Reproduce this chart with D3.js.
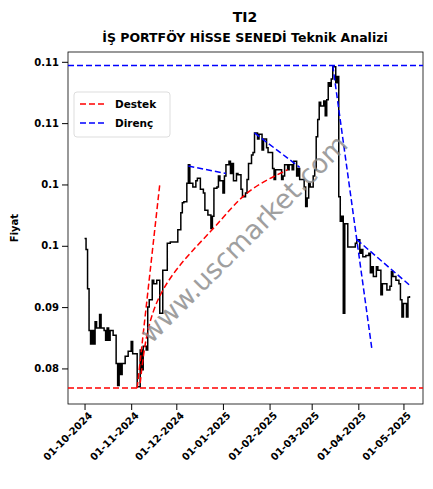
<!DOCTYPE html>
<html><head><meta charset="utf-8">
<script src="https://cdn.jsdelivr.net/npm/d3@7"></script>
<style>body{margin:0;background:#fff}text{font-family:"DejaVu Sans",sans-serif}</style>
</head><body><svg width="433" height="489"></svg>
<script>
// days since 01-10-2024 and closing price
const days = [0,1,2,3,4,5,6,7,8,10,11,13,14,15,16,17,19,21,22,23,24,25,27,29,31,32,34,35,37,38,39,41,42,43,45,46,48,50,52,55,57,60,62,64,65,66,68,69,70,72,74,75,77,79,80,82,84,85,86,88,89,90,92,93,94,96,97,98,99,101,102,104,105,107,108,109,111,112,113,115,116,118,119,121,122,125,126,127,129,131,132,133,135,136,138,139,141,142,143,146,147,148,149,150,152,153,154,155,156,157,159,160,161,162,163,164,165,167,168,169,170,171,172,173,175,178,180,181,183,184,185,187,189,190,191,192,194,195,197,198,200,201,203,204,205,207,209,210,211,212,214,215,216];
const prices = [0.0906,0.0897,0.0865,0.0831,0.0820,0.0831,0.0820,0.0838,0.0833,0.0844,0.0833,0.0831,0.0823,0.0833,0.0823,0.0831,0.0827,0.0804,0.0786,0.0804,0.0795,0.0804,0.0810,0.0814,0.0822,0.0812,0.0812,0.0785,0.0815,0.0799,0.0818,0.0815,0.0850,0.0856,0.0872,0.0869,0.0872,0.0845,0.0880,0.0902,0.0903,0.0903,0.0913,0.0927,0.0935,0.0936,0.0951,0.0966,0.0951,0.0948,0.0953,0.0955,0.0946,0.0943,0.0929,0.0925,0.0914,0.0924,0.0947,0.0948,0.0957,0.0953,0.0943,0.0957,0.0966,0.0969,0.0959,0.0967,0.0953,0.0959,0.0958,0.0946,0.0940,0.0943,0.0954,0.0967,0.0974,0.0976,0.0992,0.0987,0.0991,0.0978,0.0987,0.0980,0.0976,0.0963,0.0954,0.0962,0.0962,0.0954,0.0957,0.0966,0.0962,0.0966,0.0962,0.0969,0.0957,0.0963,0.0954,0.0948,0.0932,0.0939,0.0951,0.0948,0.0957,0.0962,0.0989,0.1003,0.1017,0.1014,0.1018,0.1006,0.1019,0.1033,0.1030,0.1036,0.1046,0.1033,0.1038,0.0940,0.0920,0.0924,0.0845,0.0918,0.0899,0.0899,0.0902,0.0905,0.0894,0.0897,0.0891,0.0892,0.0894,0.0878,0.0883,0.0875,0.0883,0.0880,0.0860,0.0869,0.0869,0.0864,0.0867,0.0879,0.0875,0.0872,0.0869,0.0856,0.0842,0.0853,0.0842,0.0858,0.0859];

const supportLevel = 0.0784;
const resistanceLevel = 0.1047;
const supportLines = [
  [[35, 0.0784], [50, 0.0950]]
];
const supportCurve = [[37, 0.0788], [50, 0.0859], [84, 0.0912], [108, 0.0943], [135, 0.0962]];
const resistanceLines = [
  [[69, 0.0965], [94, 0.0959]],
  [[113, 0.0992], [143, 0.0964]],
  [[165, 0.1047], [191, 0.0816]],
  [[181, 0.0905], [216, 0.0868]]
];

const xTickDates = ["2024-10-01","2024-11-01","2024-12-01","2025-01-01","2025-02-01","2025-03-01","2025-04-01","2025-05-01"];
const yTickValues = [0.08, 0.085, 0.09, 0.095, 0.1, 0.105];
const yTickLabels = ["0.08", "0.09", "0.1", "0.1", "0.11", "0.11"];

const svg = d3.select("svg");
const margin = { top: 52, right: 10, bottom: 85, left: 68 };
const w = 433 - margin.left - margin.right;
const h = 489 - margin.top - margin.bottom;
const start = new Date(2024, 9, 1);
const dayDate = d => d3.timeDay.offset(start, d);

const x = d3.scaleTime().domain([dayDate(-10.6), dayDate(225)]).range([0, w]);
const y = d3.scaleLinear().domain([0.0771, 0.1058]).range([h, 0]);

svg.append("text").attr("x", 245).attr("y", 22).attr("text-anchor", "middle")
  .style("font-size", "14px").style("font-weight", "bold").text("TI2");
svg.append("text").attr("x", 245).attr("y", 42).attr("text-anchor", "middle")
  .style("font-size", "12.5px").style("font-weight", "bold").text("İŞ PORTFÖY HİSSE SENEDİ Teknik Analizi");

const g = svg.append("g").attr("transform", `translate(${margin.left},${margin.top})`);

const parse = d3.timeParse("%Y-%m-%d");
const xAxis = g.append("g").attr("transform", `translate(0,${h})`)
  .call(d3.axisBottom(x).tickValues(xTickDates.map(parse)).tickFormat(d3.timeFormat("%d-%m-%Y")).tickSizeOuter(0));
xAxis.selectAll("text").attr("text-anchor", "end").attr("dx", "-0.3em").attr("dy", "0.5em")
  .attr("transform", "rotate(-45)").style("font-size", "10px").style("font-weight", "bold").style("fill", "#000");
const yAxis = g.append("g")
  .call(d3.axisLeft(y).tickValues(yTickValues).tickFormat((d, i) => yTickLabels[i]).tickSizeOuter(0));
yAxis.selectAll("text").style("font-size", "10px").style("font-weight", "bold").style("fill", "#000");
g.selectAll(".domain").remove();
g.append("rect").attr("width", w).attr("height", h).attr("fill", "none").attr("stroke", "#000").attr("stroke-width", 0.8);

svg.append("text").attr("transform", `translate(18,${margin.top + h / 2}) rotate(-90)`)
  .attr("text-anchor", "middle").style("font-size", "10px").style("font-weight", "bold").text("Fiyat");

const pts = days.map((d, i) => [x(dayDate(d)), y(prices[i])]);
g.append("path").attr("d", d3.line().curve(d3.curveStepAfter)(pts))
  .attr("fill", "none").attr("stroke", "#000").attr("stroke-width", 1.5);

const dash = "6,3";
const seg = p => d3.line()(p.map(q => [x(dayDate(q[0])), y(q[1])]));
g.append("line").attr("x1", 0).attr("x2", w).attr("y1", y(supportLevel)).attr("y2", y(supportLevel))
  .attr("stroke", "red").attr("stroke-width", 1.5).attr("stroke-dasharray", dash);
g.append("line").attr("x1", 0).attr("x2", w).attr("y1", y(resistanceLevel)).attr("y2", y(resistanceLevel))
  .attr("stroke", "blue").attr("stroke-width", 1.5).attr("stroke-dasharray", dash);
supportLines.forEach(p => g.append("path").attr("d", seg(p)).attr("fill", "none")
  .attr("stroke", "red").attr("stroke-width", 1.5).attr("stroke-dasharray", dash));
g.append("path").attr("d", d3.line().curve(d3.curveNatural)(supportCurve.map(q => [x(dayDate(q[0])), y(q[1])])))
  .attr("fill", "none").attr("stroke", "red").attr("stroke-width", 1.5).attr("stroke-dasharray", dash);
resistanceLines.forEach(p => g.append("path").attr("d", seg(p)).attr("fill", "none")
  .attr("stroke", "blue").attr("stroke-width", 1.5).attr("stroke-dasharray", dash));

// watermark
g.append("text").attr("transform", `translate(${245 - margin.left},${240 - margin.top}) rotate(-45)`)
  .attr("text-anchor", "middle").attr("dominant-baseline", "middle")
  .style("font-size", "27px").style("fill", "#888").style("opacity", 0.8).text("www.uscmarket.com");

// legend
const lg = g.append("g").attr("transform", "translate(6,40)");
lg.append("rect").attr("width", 96).attr("height", 45).attr("rx", 3).attr("fill", "#fff")
  .attr("fill-opacity", 0.8).attr("stroke", "#ddd");
[["Destek", "red"], ["Direnç", "blue"]].forEach((d, i) => {
  lg.append("line").attr("x1", 6).attr("x2", 32).attr("y1", 12 + i * 19).attr("y2", 12 + i * 19)
    .attr("stroke", d[1]).attr("stroke-width", 1.5).attr("stroke-dasharray", dash);
  lg.append("text").attr("x", 41).attr("y", 16 + i * 19).style("font-size", "10.5px")
    .style("font-weight", "bold").text(d[0]);
});
</script></body></html>
